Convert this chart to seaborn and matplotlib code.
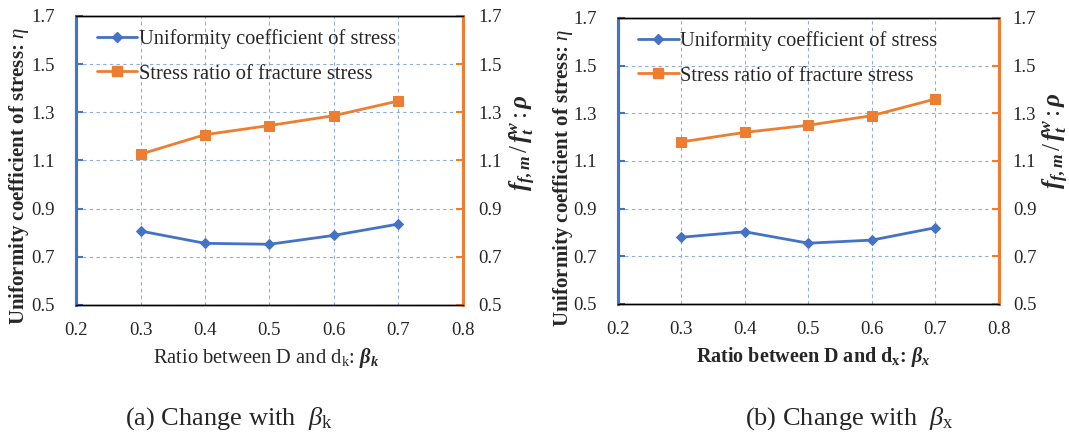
import matplotlib
matplotlib.use("Agg")
import matplotlib.pyplot as plt
import seaborn as sns
import pandas as pd
from matplotlib.lines import Line2D

# Ratio values on the x axis
beta = [0.3, 0.4, 0.5, 0.6, 0.7]

# (a) change with beta_k
eta_k = [0.807, 0.756, 0.752, 0.789, 0.836]
rho_k = [1.126, 1.207, 1.245, 1.286, 1.347]

# (b) change with beta_x
eta_x = [0.780, 0.803, 0.755, 0.768, 0.820]
rho_x = [1.18, 1.22, 1.25, 1.29, 1.36]

x_ticks = [0.2, 0.3, 0.4, 0.5, 0.6, 0.7, 0.8]
y_ticks = [0.5, 0.7, 0.9, 1.1, 1.3, 1.5, 1.7]

legend_labels = ["Uniformity coefficient of stress", "Stress ratio of fracture stress"]

sns.set_theme(style="white")
plt.rcParams["font.family"] = ["Liberation Serif", "DejaVu Serif"]
plt.rcParams["mathtext.fontset"] = "custom"
plt.rcParams["mathtext.rm"] = "Liberation Serif"
plt.rcParams["mathtext.it"] = "Liberation Serif:italic"
plt.rcParams["mathtext.bf"] = "Liberation Serif:bold"
plt.rcParams["mathtext.bfit"] = "Liberation Serif:italic:bold"

BLUE = "#4472C4"
ORANGE = "#ED7D31"
GRID = "#8FAADC"

fig = plt.figure(figsize=(10.69, 4.38), dpi=100)
axes = [fig.add_axes([0.0711, 0.3037, 0.362, 0.660]),
        fig.add_axes([0.578, 0.306, 0.3564, 0.653])]

panels = [
    dict(eta=eta_k, rho=rho_k,
         xlabel=r"Ratio between D and d$_\mathrm{k}$: $\mathbfit{\beta_k}$",
         xweight="normal", xsize=14.8, xlab_pos=(0.491, -0.183),
         caption=r"(a) Change with  $\beta_\mathrm{k}$", cap_x=0.214,
         lpad=15, rpad=11, ylab_l=(-0.147, 0.446), ylab_r=(1.155, 0.56)),
    dict(eta=eta_x, rho=rho_x,
         xlabel=r"Ratio between D and d$_\mathbf{x}$: $\mathbfit{\beta_x}$",
         xweight="bold", xsize=14.5, xlab_pos=(0.513, -0.185),
         caption=r"(b) Change with  $\beta_\mathrm{x}$", cap_x=0.795,
         lpad=15, rpad=10, ylab_l=(-0.144, 0.44), ylab_r=(1.15, 0.57)),
]

for ax, p in zip(axes, panels):
    df = pd.DataFrame({"beta": beta, "eta": p["eta"], "rho": p["rho"]})
    ax2 = ax.twinx()

    sns.lineplot(data=df, x="beta", y="eta", ax=ax, color=BLUE, marker="D",
                 markersize=5.5, markeredgecolor=BLUE, linewidth=2)
    sns.lineplot(data=df, x="beta", y="rho", ax=ax2, color=ORANGE, marker="s",
                 markersize=7, markeredgecolor=ORANGE, linewidth=2)

    for a in (ax, ax2):
        a.set_xlim(0.2, 0.8)
        a.set_ylim(0.5, 1.7)
        a.set_yticks(y_ticks)
        a.set_yticklabels([f"{v:.1f}" for v in y_ticks], fontsize=13.5)
    ax.set_xticks(x_ticks)
    ax.set_xticklabels([f"{v:.1f}" for v in x_ticks], fontsize=13.5)

    ax.grid(True, color=GRID, linestyle=(0, (3, 3)), linewidth=0.8)
    ax.set_axisbelow(True)

    for a in (ax, ax2):
        a.spines["top"].set_color("black")
        a.spines["top"].set_linewidth(1.0)
        a.spines["bottom"].set_color("black")
        a.spines["bottom"].set_linewidth(1.0)
        a.spines["left"].set_color(BLUE)
        a.spines["left"].set_linewidth(2.2)
        a.spines["right"].set_color(ORANGE)
        a.spines["right"].set_linewidth(2.2)

    ax.tick_params(axis="y", direction="in", length=5, width=1.5, color=BLUE,
                   left=True, pad=p["lpad"])
    ax.tick_params(axis="x", length=0, pad=12)
    ax2.tick_params(axis="y", direction="in", length=5, width=1.5, color=ORANGE,
                    right=True, pad=p["rpad"])

    ax.set_xlabel(p["xlabel"], fontsize=p["xsize"], fontweight=p["xweight"])
    ax.xaxis.set_label_coords(*p["xlab_pos"])
    ax.xaxis.label.set_verticalalignment("center")

    ax.set_ylabel(r"Uniformity coefficient of stress: $\mathit{\eta}$",
                  fontsize=15, fontweight="bold")
    ax.yaxis.set_label_coords(*p["ylab_l"])
    ax.yaxis.label.set_verticalalignment("center")

    ax2.set_ylabel(r"$\mathbfit{f_{f,m}}\,/\,\mathbfit{f_t^w}\,$:$\,\mathbfit{\rho}$",
                   fontsize=18)
    ax2.yaxis.set_label_coords(*p["ylab_r"])
    ax2.yaxis.label.set_verticalalignment("center")

    handles = [Line2D([], [], color=BLUE, marker="D", markersize=5.5, linewidth=2),
               Line2D([], [], color=ORANGE, marker="s", markersize=7, linewidth=2)]
    ax2.legend(handles, legend_labels, loc="upper left", frameon=False,
               fontsize=14.8, handlelength=1.95, handletextpad=0.08,
               labelspacing=0.75, borderpad=0, borderaxespad=0,
               bbox_to_anchor=(0.054, 0.955))

    fig.text(p["cap_x"], 0.045, p["caption"], ha="center", va="center", fontsize=19)

fig.savefig("out.png", dpi=100, facecolor="white")
